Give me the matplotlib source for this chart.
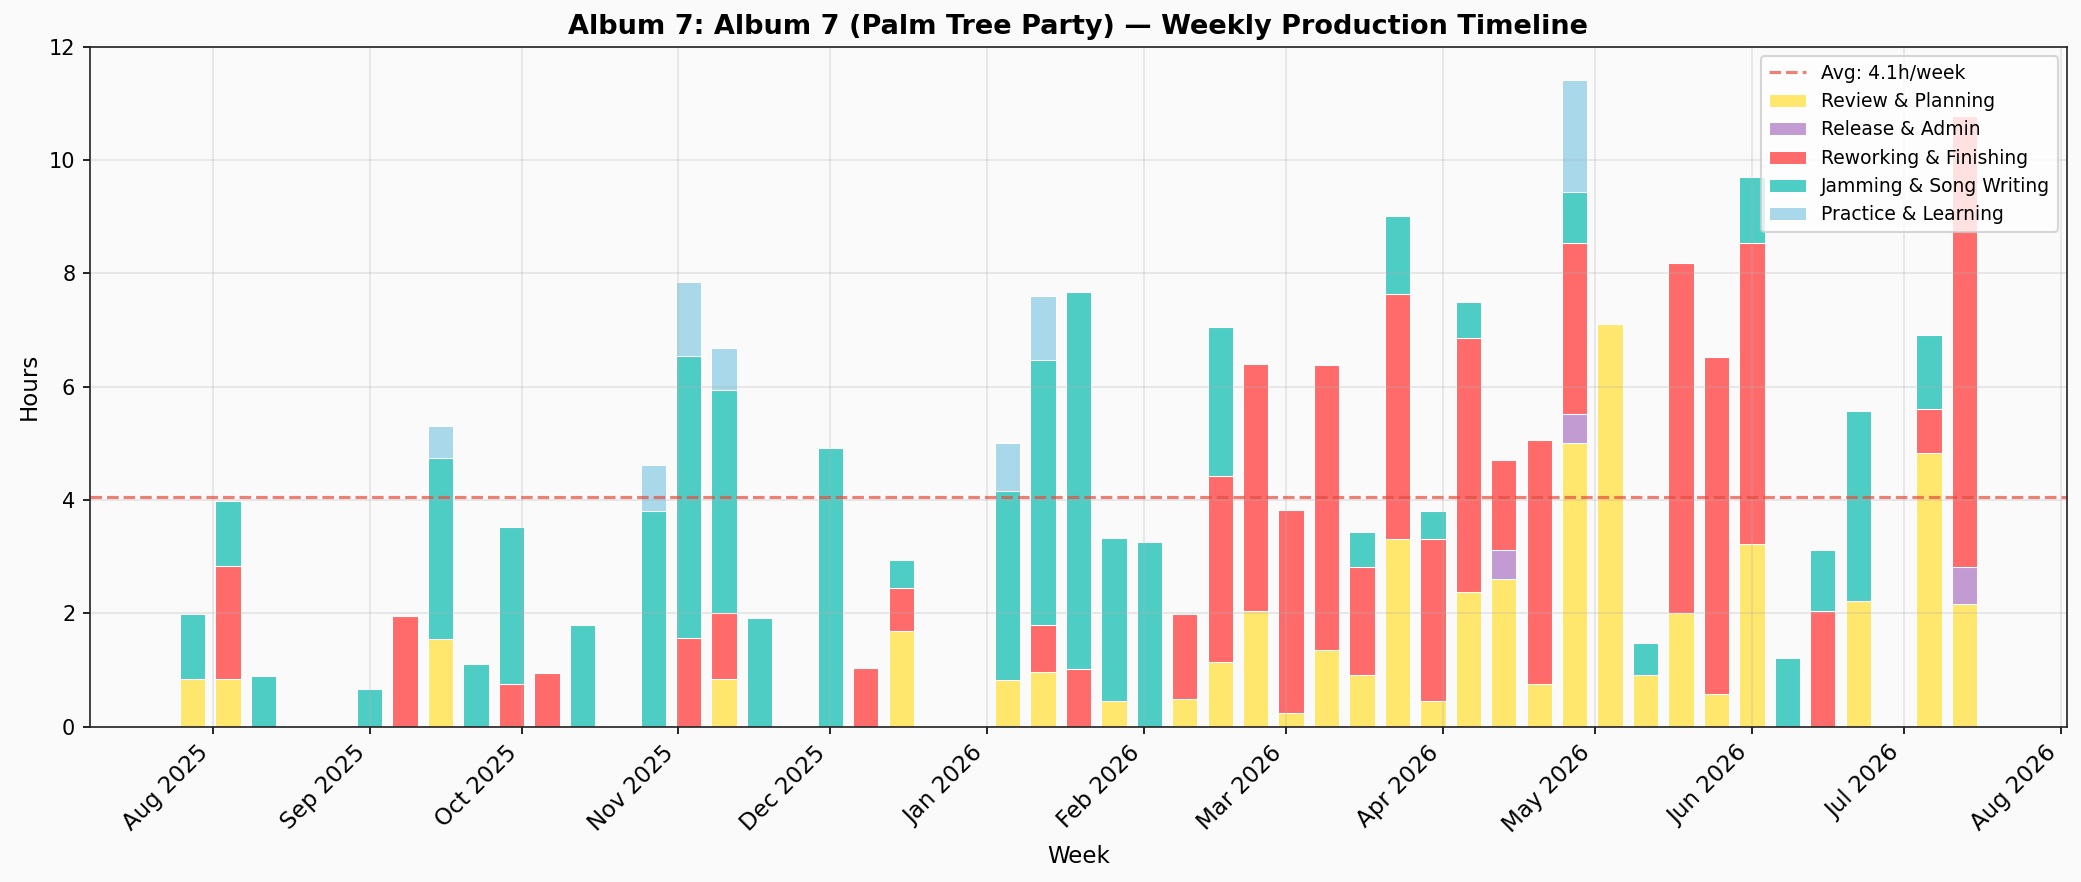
import matplotlib
matplotlib.use("Agg")
import matplotlib.pyplot as plt
import matplotlib.dates as mdates
import numpy as np
import pandas as pd

# ---- data (hours per week) ----
weeks = ["2025-07-28", "2025-08-04", "2025-08-11", "2025-09-01", "2025-09-08",
         "2025-09-15", "2025-09-22", "2025-09-29", "2025-10-06", "2025-10-13",
         "2025-10-27", "2025-11-03", "2025-11-10", "2025-11-17", "2025-12-01",
         "2025-12-08", "2025-12-15", "2026-01-05", "2026-01-12", "2026-01-19",
         "2026-01-26", "2026-02-02", "2026-02-09", "2026-02-16", "2026-02-23",
         "2026-03-02", "2026-03-09", "2026-03-16", "2026-03-23", "2026-03-30",
         "2026-04-06", "2026-04-13", "2026-04-20", "2026-04-27", "2026-05-04",
         "2026-05-11", "2026-05-18", "2026-05-25", "2026-06-01", "2026-06-08",
         "2026-06-15", "2026-06-22", "2026-07-06", "2026-07-13"]

review = [0.85, 0.84, 0, 0, 0, 1.54, 0, 0, 0, 0,
          0, 0, 0.85, 0, 0, 0, 1.69, 0.82, 0.96, 0,
          0.46, 0, 0.49, 1.14, 2.05, 0.24, 1.35, 0.92, 3.32, 0.46,
          2.38, 2.60, 0.75, 5.01, 7.10, 0.91, 2.01, 0.57, 3.23, 0,
          0, 2.22, 4.83, 2.17]
release = [0, 0, 0, 0, 0, 0, 0, 0, 0, 0,
           0, 0, 0, 0, 0, 0, 0, 0, 0, 0,
           0, 0, 0, 0, 0, 0, 0, 0, 0, 0,
           0, 0.52, 0, 0.51, 0, 0, 0, 0, 0, 0,
           0, 0, 0, 0.65]
reworking = [0, 1.99, 0, 0, 1.96, 0, 0, 0.75, 0.95, 0,
             0, 1.56, 1.15, 0, 0, 1.04, 0.75, 0, 0.83, 1.02,
             0, 0, 1.49, 3.28, 4.35, 3.58, 5.03, 1.90, 4.31, 2.85,
             4.48, 1.59, 4.31, 3.02, 0, 0, 6.17, 5.96, 5.31, 0,
             2.05, 0, 0.77, 7.96]
jamming = [1.13, 1.16, 0.89, 0.67, 0, 3.21, 1.11, 2.77, 0, 1.79,
           3.80, 4.98, 3.95, 1.91, 4.91, 0, 0.50, 3.34, 4.69, 6.65,
           2.87, 3.26, 0, 2.63, 0, 0, 0, 0.61, 1.38, 0.49,
           0.64, 0, 0, 0.90, 0, 0.57, 0, 0, 1.17, 1.21,
           1.06, 3.36, 1.32, 0]
practice = [0, 0, 0, 0, 0, 0.56, 0, 0, 0, 0,
            0.82, 1.31, 0.74, 0, 0, 0, 0, 0.85, 1.12, 0,
            0, 0, 0, 0, 0, 0, 0, 0, 0, 0,
            0, 0, 0, 1.98, 0, 0, 0, 0, 0, 0,
            0, 0, 0, 0]
avg_hours = 4.06
avg_label = "Avg: 4.1h/week"

categories = ["Review & Planning", "Release & Admin", "Reworking & Finishing",
              "Jamming & Song Writing", "Practice & Learning"]
colors = ["#FFE66D", "#C39BD3", "#FF6B6B", "#4ECDC4", "#A8D8EA"]
series = [review, release, reworking, jamming, practice]

title = "Album 7: Album 7 (Palm Tree Party) \u2014 Weekly Production Timeline"

# ---- plot ----
dates = pd.to_datetime(weeks)
bg = "#FAFAFA"
fig = plt.figure(figsize=(2081 / 150, 882 / 150), dpi=150, facecolor=bg)
ax = fig.add_axes([0.0432, 0.1761, 0.9933 - 0.0432, 0.947 - 0.1761])
ax.set_facecolor(bg)

bottom = np.zeros(len(weeks))
for name, col, vals in zip(categories, colors, series):
    v = np.array(vals, dtype=float)
    ax.bar(dates, v, width=5, bottom=bottom, color=col, label=name,
           edgecolor="white", linewidth=0.5)
    bottom += v

ax.axhline(avg_hours, color="#E74C3C", linestyle="--", linewidth=1.5,
           alpha=0.7, label=avg_label)

ax.set_ylim(0, 12)
ax.xaxis.set_major_locator(mdates.MonthLocator())
ax.xaxis.set_major_formatter(mdates.DateFormatter("%b %Y"))
ax.tick_params(axis="y", labelsize=10)
ax.tick_params(axis="x", labelsize=11)
plt.setp(ax.get_xticklabels(), rotation=45, ha="right")
ax.grid(True, alpha=0.3)
for s in ax.spines.values():
    s.set_color("#222222")

ax.set_xlabel("Week", fontsize=11)
ax.set_ylabel("Hours", fontsize=11)
ax.set_title(title, fontsize=13, fontweight="bold")

handles, labels = ax.get_legend_handles_labels()
order = [labels.index(avg_label)] + [labels.index(c) for c in categories]
ax.legend([handles[i] for i in order], [labels[i] for i in order],
          loc="upper right", fontsize=9, framealpha=0.8)

fig.savefig("out.png", dpi=150, facecolor=bg)
